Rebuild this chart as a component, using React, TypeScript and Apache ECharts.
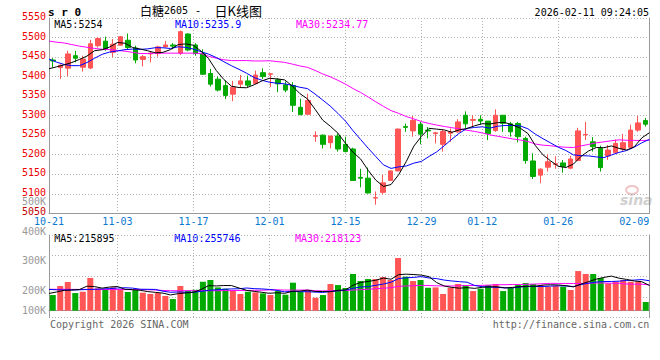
import React, { useEffect, useRef } from "react";
import * as echarts from "echarts";

// ---------------- data ----------------
const dates = [
  "10-21", "10-22", "10-23", "10-24", "10-27", "10-28", "10-29", "10-30", "10-31",
  "11-03", "11-04", "11-05", "11-06", "11-07", "11-10", "11-11", "11-12", "11-13", "11-14",
  "11-17", "11-18", "11-19", "11-20", "11-21", "11-24", "11-25", "11-26", "11-27", "11-28",
  "12-01", "12-02", "12-03", "12-04", "12-05", "12-08", "12-09", "12-10", "12-11", "12-12",
  "12-15", "12-16", "12-17", "12-18", "12-19", "12-22", "12-23", "12-24", "12-25", "12-26",
  "12-29", "12-30", "12-31",
  "01-05", "01-06", "01-07", "01-08", "01-09", "01-12", "01-13", "01-14", "01-15", "01-16",
  "01-19", "01-20", "01-21", "01-22", "01-23", "01-26", "01-27", "01-28", "01-29", "01-30",
  "02-02", "02-03", "02-04", "02-05", "02-06", "02-09", "02-10", "02-11",
];

const opens = [
  5442.5, 5423, 5421.5, 5453.5, 5424, 5422, 5479, 5490.7, 5462, 5480.5,
  5493, 5473, 5444, 5458, 5459, 5476, 5481, 5460, 5509, 5481,
  5458.5, 5408, 5393.3, 5377, 5355, 5380.6, 5389, 5382, 5410, 5406,
  5391.6, 5379, 5377, 5321.3, 5303.5, 5247, 5250, 5230.7, 5248, 5226.5,
  5214.6, 5142, 5140, 5089, 5103.6, 5134, 5158.6, 5272, 5261, 5278,
  5263, 5254, 5226.5, 5255, 5258.6, 5301, 5288, 5290.7, 5286, 5262,
  5301, 5279, 5280, 5241.7, 5184, 5147.7, 5168, 5175, 5179, 5165.5,
  5185, 5251, 5233, 5216, 5197, 5205, 5214.6, 5219, 5263, 5287.4,
];
const closes = [
  5440, 5429, 5458, 5447, 5445, 5484, 5497.5, 5470, 5483, 5502,
  5474.6, 5442.5, 5451, 5460, 5476, 5481, 5478, 5515, 5468, 5459,
  5406, 5380.6, 5365.4, 5351.8, 5373, 5389, 5378, 5404, 5400, 5407,
  5381.4, 5365.4, 5326.4, 5302.7, 5339, 5249, 5226.5, 5248, 5214.6, 5208,
  5134, 5140, 5102, 5090, 5128, 5158.6, 5265.6, 5270, 5288, 5252.7,
  5261, 5256, 5259.5, 5258, 5284, 5279, 5290, 5286, 5254, 5301,
  5280.6, 5258.6, 5246, 5185, 5144.3, 5163, 5182, 5177, 5169.7, 5189,
  5261, 5252, 5220.5, 5167, 5212, 5229, 5230.7, 5263, 5281.5, 5278,
];
const lows = [
  5424, 5394, 5401, 5436.5, 5413, 5419, 5474.6, 5466, 5450, 5479,
  5470, 5434, 5426, 5436.5, 5451, 5474.6, 5470, 5455, 5465, 5453.5,
  5404, 5374.7, 5362, 5342.5, 5337, 5373, 5373, 5381, 5394, 5373,
  5360, 5360, 5309.5, 5301, 5303.5, 5233, 5216, 5216, 5208, 5206,
  5134, 5116.4, 5101, 5072, 5098, 5134, 5157, 5258.6, 5246, 5226.5,
  5242, 5229, 5208, 5233, 5256, 5268.8, 5271, 5277, 5237.5, 5258.6,
  5258.6, 5246, 5231.5, 5177, 5138, 5127, 5157, 5164, 5154, 5163,
  5185, 5237.5, 5208, 5157, 5186.6, 5203.6, 5208, 5216, 5258.6, 5272,
];
const highs = [
  5447, 5431, 5466, 5466, 5453.5, 5494, 5501, 5502, 5496, 5504,
  5510, 5479, 5455, 5463.6, 5479, 5491.5, 5485.6, 5518, 5511, 5485.6,
  5470, 5419.6, 5400, 5390, 5389, 5404, 5402.6, 5415.3, 5421, 5408,
  5395.8, 5387.4, 5385.7, 5343.3, 5356, 5260, 5252, 5248, 5254.4, 5246,
  5218, 5163.8, 5167, 5106, 5148.5, 5158.6, 5267, 5279.8, 5299.3, 5284,
  5271, 5258.6, 5263, 5267, 5291, 5311, 5301, 5301, 5286, 5316,
  5301, 5284, 5284, 5246, 5203.6, 5165.5, 5201, 5196, 5186.6, 5197,
  5268.8, 5284, 5245, 5223, 5225, 5239, 5253, 5277, 5299, 5294,
];

// volume in thousands of lots
const volumes = [
  133, 210, 244, 150, 161, 278, 190, 181, 198, 181,
  159, 176, 153, 142, 150, 125, 99, 210, 170, 178,
  246, 261, 198, 187, 176, 142, 161, 156, 147, 133,
  167, 136, 238, 159, 176, 110, 133, 227, 218, 193,
  312, 252, 269, 269, 286, 261, 448, 289, 252, 261,
  195, 198, 142, 195, 227, 218, 167, 187, 218, 227,
  167, 193, 218, 235, 227, 218, 204, 210, 204, 176,
  337, 312, 312, 278, 232, 246, 261, 246, 246, 74,
];

// moving-average values before enough history exists in the window
const ma5Head = [5420, 5425, 5430, 5436];
const ma10Head = [5445, 5437, 5431, 5428, 5428, 5436, 5447, 5457, 5463];
const ma30Head = [
  5491, 5488, 5486, 5482, 5478, 5475, 5472, 5470, 5469, 5467,
  5465, 5462, 5459, 5459, 5460, 5460, 5460, 5460, 5460, 5460,
  5459, 5452, 5447, 5443, 5441, 5441, 5441, 5440, 5440,
];
const vma5Head = [147, 159, 173, 176];
const vma10Head = [181, 178, 176, 176, 178, 180, 182, 185, 188];
const vma30Head = [
  182, 182, 182, 181, 181, 181, 181, 180, 180, 180,
  180, 179, 179, 178, 176, 172, 170, 170, 170, 170,
  170, 170, 170, 171, 171, 172, 172, 173, 174,
];

const labelDates = ["10-21", "11-03", "11-17", "12-01", "12-15", "12-29", "01-12", "01-26", "02-09"];
const gridDates = ["11-03", "11-17", "12-01", "12-15", "12-29", "01-12", "01-26"];
const volTickLabels = ["500K", "400K", "300K", "200K", "100K"];
const priceMin = 5050;
const priceMax = 5550;
const priceStep = 50;

const symbolText = "s r 0";
const titleName = "白糖";
const titleCode = "2605";
const titleSuffix = "日K线图";
const timeText = "2026-02-11 09:24:05";
const priceMaTexts = ["MA5:5254", "MA10:5235.9", "MA30:5234.77"];
const volMaTexts = ["MA5:215895", "MA10:255746", "MA30:218123"];
const copyrightText = "Copyright 2026 SINA.COM";
const urlText = "http://finance.sina.com.cn";

// ---------------- helpers ----------------
function movingAvg(vals: number[], n: number, head: number[]) {
  return vals.map((_, i) => {
    if (i < n - 1) return head[i];
    let s = 0;
    for (let k = i - n + 1; k <= i; k++) s += vals[k];
    return +(s / n).toFixed(2);
  });
}

const UP = "#ff5555";
const DOWN = "#00aa00";
const MONO = '"DejaVu Sans Mono", "Liberation Mono", monospace';
const CJK = '"Noto Sans CJK SC", sans-serif';
const DOT = { color: "#b0b0b0", width: 1, type: [1, 2] as any };
const AXIS = { color: "#999999", width: 1 };

export default function App() {
  const ref = useRef<HTMLDivElement>(null);
  useEffect(() => {
    if (!ref.current) return;
    const chart = echarts.init(ref.current, null, { renderer: "svg" });

    const ma5 = movingAvg(closes, 5, ma5Head);
    const ma10 = movingAvg(closes, 10, ma10Head);
    const ma30 = movingAvg(closes, 30, ma30Head);
    const vma5 = movingAvg(volumes, 5, vma5Head);
    const vma10 = movingAvg(volumes, 10, vma10Head);
    const vma30 = movingAvg(volumes, 30, vma30Head);

    const lineSeries = (name: string, data: number[], color: string, xi: number, yi: number) => ({
      name,
      type: "line",
      xAxisIndex: xi,
      yAxisIndex: yi,
      data,
      symbol: "none",
      lineStyle: { color, width: 1 },
      silent: true,
    });

    const txt = (text: string, x: number, y: number, fill: string, opts: any = {}) => ({
      type: "text",
      x,
      y,
      silent: true,
      style: {
        text,
        fill,
        fontFamily: MONO,
        fontSize: 10,
        lineHeight: 8,
        align: "left",
        verticalAlign: "middle",
        ...opts,
      },
    });

    const volLabelY = [201.8, 231, 260.8, 290, 310.3];

    chart.setOption({
      animation: false,
      backgroundColor: "#ffffff",
      textStyle: { fontFamily: MONO },
      grid: [
        { left: 49, top: 18, width: 600.5, height: 195.3 },
        { left: 49, top: 235, width: 600.5, height: 82.7 },
      ],
      xAxis: [
        {
          type: "category", gridIndex: 0, data: dates, boundaryGap: true, position: "bottom",
          axisLine: { show: true, lineStyle: AXIS }, axisTick: { show: false },
          axisLabel: { show: false }, splitLine: { show: false },
        },
        {
          type: "category", gridIndex: 0, data: dates, boundaryGap: false, position: "bottom",
          axisLine: { show: false }, axisTick: { show: false },
          axisLabel: {
            show: true,
            interval: (_i: number, v: string) => labelDates.includes(v),
            color: "#0a78d0", fontSize: 10, fontFamily: MONO, margin: 4.5, lineHeight: 8,
          },
          splitLine: {
            show: true,
            interval: (_i: number, v: string) => gridDates.includes(v),
            lineStyle: DOT,
          },
        },
        {
          type: "category", gridIndex: 1, data: dates, boundaryGap: true, position: "bottom",
          axisLine: { show: true, lineStyle: AXIS }, axisTick: { show: false },
          axisLabel: { show: false }, splitLine: { show: false },
        },
        {
          type: "category", gridIndex: 1, data: dates, boundaryGap: false, position: "bottom",
          axisLine: { show: false }, axisTick: { show: false }, axisLabel: { show: false },
          splitLine: {
            show: true,
            interval: (_i: number, v: string) => gridDates.includes(v),
            lineStyle: DOT,
          },
        },
      ],
      yAxis: [
        {
          type: "value", gridIndex: 0, position: "left", min: priceMin, max: priceMax, interval: priceStep,
          axisLine: { show: true, lineStyle: AXIS }, axisTick: { show: false },
          axisLabel: {
            show: true, color: "#ee0000", fontSize: 10, fontFamily: MONO, margin: 3,
            lineHeight: 8,
            padding: [0, 0, 3, 0],
            formatter: (v: number) => (v === priceMin ? "{d|" + v + "}" : String(v)),
            rich: { d: { color: "#c00000", fontSize: 10, fontFamily: MONO, lineHeight: 8 } },
          },
          splitLine: { show: true, lineStyle: DOT },
        },
        {
          type: "value", gridIndex: 0, position: "right", min: priceMin, max: priceMax, interval: priceStep,
          axisLine: { show: true, lineStyle: AXIS }, axisTick: { show: false },
          axisLabel: { show: false }, splitLine: { show: false },
        },
        {
          type: "value", gridIndex: 1, position: "left", min: -59.5, max: 643.5,
          axisLine: { show: true, lineStyle: AXIS }, axisTick: { show: false },
          axisLabel: { show: false }, splitLine: { show: false },
        },
        {
          type: "value", gridIndex: 1, position: "right", min: 0, max: 4, interval: 1,
          axisLine: { show: true, lineStyle: AXIS }, axisTick: { show: false },
          axisLabel: { show: false }, splitLine: { show: true, lineStyle: DOT },
        },
      ],
      series: [
        {
          name: "K",
          type: "candlestick",
          xAxisIndex: 0,
          yAxisIndex: 0,
          barWidth: 5,
          data: dates.map((_, i) => [opens[i], closes[i], lows[i], highs[i]]),
          itemStyle: { color: UP, color0: DOWN, borderColor: UP, borderColor0: DOWN, borderWidth: 1 },
          silent: true,
        },
        lineSeries("MA30", ma30, "#ff00ff", 1, 0),
        lineSeries("MA10", ma10, "#0000ff", 1, 0),
        lineSeries("MA5", ma5, "#000000", 1, 0),
        {
          name: "VOL",
          type: "bar",
          xAxisIndex: 2,
          yAxisIndex: 2,
          barWidth: 6,
          data: volumes.map((v, i) => ({
            value: v,
            itemStyle: { color: closes[i] >= opens[i] ? UP : DOWN },
          })),
          silent: true,
        },
        lineSeries("VMA30", vma30, "#ff00ff", 3, 2),
        lineSeries("VMA10", vma10, "#0000ff", 3, 2),
        lineSeries("VMA5", vma5, "#000000", 3, 2),
      ],
      graphic: [
        txt(symbolText, 48, 12.7, "#000000", { fontSize: 11, fontWeight: "bold", lineHeight: 11 }),
        {
          type: "text",
          x: 140,
          y: 10.5,
          silent: true,
          style: {
            text: "{a|" + titleName + "}{b|" + titleCode + "}{c| -  }{e|" + titleSuffix + "}",
            verticalAlign: "middle",
            rich: {
              a: { fontFamily: CJK, fontSize: 12, color: "#000" },
              b: { fontFamily: MONO, fontSize: 10, color: "#555" },
              c: { fontFamily: MONO, fontSize: 11, color: "#000" },
              e: { fontFamily: CJK, fontSize: 13, color: "#000" },
            },
          },
        },
        txt(timeText, 649, 12.3, "#000000", { align: "right" }),
        txt(priceMaTexts[0], 54.3, 24, "#000000"),
        txt(priceMaTexts[1], 175, 24, "#0000ff"),
        txt(priceMaTexts[2], 296, 24, "#ff00ff"),
        txt(volMaTexts[0], 54.3, 238.5, "#000000"),
        txt(volMaTexts[1], 174.3, 238.5, "#0000ff"),
        txt(volMaTexts[2], 295, 238.5, "#ff00ff"),
        ...volTickLabels.map((t, k) => txt(t, 46, volLabelY[k], "#999999", { align: "right" })),
        txt(copyrightText, 50, 324, "#666666"),
        txt(urlText, 649.3, 324, "#666666", { align: "right" }),
        {
          type: "ellipse",
          silent: true,
          shape: { cx: 632, cy: 190, rx: 6, ry: 4 },
          style: { fill: "none", stroke: "#f0c4c4", lineWidth: 2 },
        },
        txt("sina", 620, 200, "#d0d0d0", {
          fontFamily: '"DejaVu Sans", sans-serif',
          fontSize: 14,
          lineHeight: 12,
          fontWeight: "bold",
          fontStyle: "italic",
        }),
      ],
    });

    return () => chart.dispose();
  }, []);

  return (
    <div
      ref={ref}
      style={{ position: "fixed", left: 0, top: 0, width: 660, height: 360, background: "#fff" }}
    />
  );
}
